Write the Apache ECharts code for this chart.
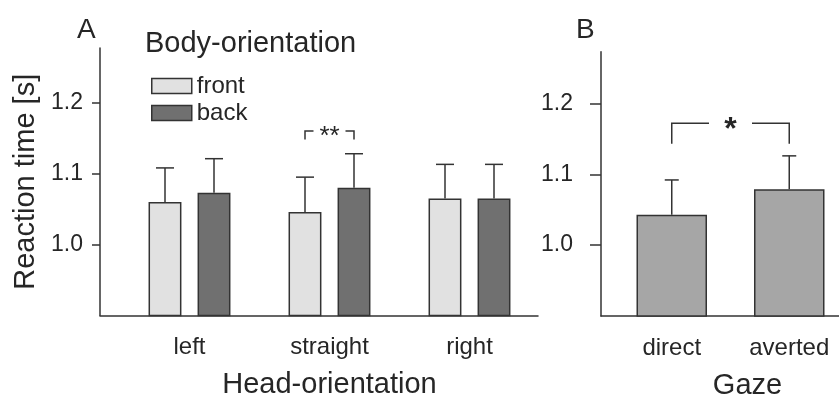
<!DOCTYPE html>
<html>
<head>
<meta charset="utf-8">
<script src="https://cdn.jsdelivr.net/npm/echarts@6/dist/echarts.min.js"></script>
<style>
html,body{margin:0;padding:0;background:#fff;}
#chart{width:839px;height:398px;}
</style>
</head>
<body>
<div id="chart"></div>
<script>
// ---- data ----
const headCategories = ['left', 'straight', 'right'];
const frontMeans = [1.060, 1.046, 1.065];
const frontErr   = [0.048, 0.049, 0.048];
const backMeans  = [1.073, 1.080, 1.065];
const backErr    = [0.048, 0.048, 0.048];
const gazeCategories = ['direct', 'averted'];
const gazeMeans = [1.043, 1.079];
const gazeErr   = [0.049, 0.047];
const yTicks = [1.0, 1.1, 1.2];
// significance brackets: [category / start, top, bottom]
const bracketA = [[1, 1.160, 1.148]];   // straight: front vs back
const bracketB = [[0, 1.172, 1.143]];   // direct vs averted

const FONT = "'Liberation Sans', Arial, Helvetica, sans-serif";
const INK = '#262626';
const AX = '#333333';

const chart = echarts.init(document.getElementById('chart'));

function errRender(offsetFrac, capW) {
  return function (params, api) {
    const c = api.value(0), m = api.value(1), e = api.value(2);
    const band = api.size([1, 0])[0];
    const p0 = api.coord([c, m]);
    const p1 = api.coord([c, m + e]);
    const x = p0[0] + offsetFrac * band;
    const st = { stroke: AX, lineWidth: 1.5, fill: null };
    return {
      type: 'group',
      children: [
        { type: 'line', shape: { x1: x, y1: p0[1], x2: x, y2: p1[1] }, style: st },
        { type: 'line', shape: { x1: x - capW / 2, y1: p1[1], x2: x + capW / 2, y2: p1[1] }, style: st }
      ]
    };
  };
}

function bracketRender(mode, label, halfGap, fontSize, weight) {
  return function (params, api) {
    const c = api.value(0), yt = api.value(1), yb = api.value(2);
    const band = api.size([1, 0])[0];
    let x1, x2;
    if (mode === 'within') {
      const pc = api.coord([c, yt]);
      x1 = pc[0] - 0.175 * band;
      x2 = pc[0] + 0.175 * band;
    } else {
      x1 = api.coord([c, yt])[0];
      x2 = api.coord([c + 1, yt])[0];
    }
    const ytp = api.coord([c, yt])[1];
    const ybp = api.coord([c, yb])[1];
    const xm = (x1 + x2) / 2;
    const st = { stroke: AX, lineWidth: 1.5, fill: null };
    return {
      type: 'group',
      children: [
        { type: 'polyline', shape: { points: [[x1, ybp], [x1, ytp], [xm - halfGap, ytp]] }, style: st },
        { type: 'polyline', shape: { points: [[xm + halfGap, ytp], [x2, ytp], [x2, ybp]] }, style: st },
        { type: 'text', style: { text: label, x: xm, y: ytp + fontSize * 0.22, fill: INK,
            font: weight + ' ' + fontSize + 'px ' + FONT,
            textAlign: 'center', textVerticalAlign: 'middle', align: 'center', verticalAlign: 'middle' } }
      ]
    };
  };
}

const yMinA = 0.9, yMaxA = 1.277;
const yMinB = 0.9, yMaxB = 1.273;

const option = {
  backgroundColor: '#ffffff',
  animation: false,
  textStyle: { fontFamily: FONT },
  title: [
    { text: 'A', left: 77, top: 16, padding: 0, textStyle: { fontSize: 28, fontWeight: 'normal', color: INK, fontFamily: FONT } },
    { text: 'B', left: 576, top: 16, padding: 0, textStyle: { fontSize: 28, fontWeight: 'normal', color: INK, fontFamily: FONT } },
    { text: 'Body-orientation', left: 145, top: 29, padding: 0, textStyle: { fontSize: 29, fontWeight: 'normal', color: INK, fontFamily: FONT } }
  ],
  legend: {
    data: ['front', 'back'],
    orient: 'vertical',
    left: 151, top: 74, padding: 0,
    itemWidth: 40, itemHeight: 15, itemGap: 3, itemTextGap: 5,
    icon: 'rect',
    itemStyle: { borderColor: AX, borderWidth: 1.5 },
    textStyle: { fontSize: 24, color: INK, fontFamily: FONT },
    selectedMode: false
  },
  grid: [
    { left: 100, top: 48, width: 438, height: 267.5, outerBoundsMode: 'none', containLabel: false },   // A axes
    { left: 119.5, top: 48, width: 420, height: 267.5, outerBoundsMode: 'none', containLabel: false }, // A bars
    { left: 601, top: 51.7, width: 238, height: 264.3, outerBoundsMode: 'none', containLabel: false }, // B axes
    { left: 613, top: 51.7, width: 235, height: 264.3, outerBoundsMode: 'none', containLabel: false }  // B bars
  ],
  xAxis: [
    { gridIndex: 0, type: 'value', min: 0, max: 1,
      axisLine: { show: true, lineStyle: { color: AX, width: 1.5 } },
      axisTick: { show: false }, axisLabel: { show: false }, splitLine: { show: false } },
    { gridIndex: 1, type: 'category', data: headCategories,
      axisLine: { show: false }, axisTick: { show: false },
      axisLabel: { fontSize: 24, color: INK, margin: 20, fontFamily: FONT },
      name: 'Head-orientation', nameLocation: 'middle', nameGap: 55,
      nameTextStyle: { fontSize: 29, color: INK, fontFamily: FONT } },
    { gridIndex: 2, type: 'value', min: 0, max: 1,
      axisLine: { show: true, lineStyle: { color: AX, width: 1.5 } },
      axisTick: { show: false }, axisLabel: { show: false }, splitLine: { show: false } },
    { gridIndex: 3, type: 'category', data: gazeCategories,
      axisLine: { show: false }, axisTick: { show: false },
      axisLabel: { fontSize: 24, color: INK, margin: 20, fontFamily: FONT },
      name: 'Gaze', nameLocation: 'middle', nameGap: 55,
      nameTextStyle: { fontSize: 29, color: INK, fontFamily: FONT, padding: [0, 0, 0, 34] } }
  ],
  yAxis: [
    { gridIndex: 0, type: 'value', min: yMinA, max: yMaxA, interval: 0.1,
      axisLine: { show: true, lineStyle: { color: AX, width: 1.5 } },
      axisTick: { show: true, length: 8, customValues: yTicks, lineStyle: { color: AX, width: 1.5 } },
      axisLabel: { fontSize: 23, color: INK, margin: 17, customValues: yTicks, fontFamily: FONT,
                   formatter: v => v.toFixed(1) },
      splitLine: { show: false },
      name: 'Reaction time [s]', nameLocation: 'middle', nameGap: 53,
      nameTextStyle: { fontSize: 29, color: INK, fontFamily: FONT } },
    { gridIndex: 1, type: 'value', min: yMinA, max: yMaxA, show: false },
    { gridIndex: 2, type: 'value', min: yMinB, max: yMaxB, interval: 0.1,
      axisLine: { show: true, lineStyle: { color: AX, width: 1.5 } },
      axisTick: { show: true, length: 11, customValues: yTicks, lineStyle: { color: AX, width: 1.5 } },
      axisLabel: { fontSize: 23, color: INK, margin: 28, customValues: yTicks, fontFamily: FONT,
                   formatter: v => v.toFixed(1) },
      splitLine: { show: false } },
    { gridIndex: 3, type: 'value', min: yMinB, max: yMaxB, show: false }
  ],
  series: [
    { name: 'front', type: 'bar', xAxisIndex: 1, yAxisIndex: 1, data: frontMeans,
      barWidth: '23.5%', barGap: '49%',
      itemStyle: { color: '#e1e1e1', borderColor: AX, borderWidth: 1.5 } },
    { name: 'back', type: 'bar', xAxisIndex: 1, yAxisIndex: 1, data: backMeans,
      barWidth: '23.5%', barGap: '49%',
      itemStyle: { color: '#707070', borderColor: AX, borderWidth: 1.5 } },
    { name: 'frontErr', type: 'custom', xAxisIndex: 1, yAxisIndex: 1, z: 3,
      data: frontMeans.map((m, i) => [i, m, frontErr[i]]),
      renderItem: errRender(-0.175, 18), encode: { x: 0, y: 1 } },
    { name: 'backErr', type: 'custom', xAxisIndex: 1, yAxisIndex: 1, z: 3,
      data: backMeans.map((m, i) => [i, m, backErr[i]]),
      renderItem: errRender(0.175, 18), encode: { x: 0, y: 1 } },
    { name: 'bracketA', type: 'custom', xAxisIndex: 1, yAxisIndex: 1, z: 3,
      data: bracketA, renderItem: bracketRender('within', '**', 16, 26, 'normal'), encode: { x: 0, y: 1 } },
    { name: 'gaze', type: 'bar', xAxisIndex: 3, yAxisIndex: 3, data: gazeMeans,
      barWidth: '60%',
      itemStyle: { color: '#a6a6a6', borderColor: AX, borderWidth: 1.5 } },
    { name: 'gazeErr', type: 'custom', xAxisIndex: 3, yAxisIndex: 3, z: 3,
      data: gazeMeans.map((m, i) => [i, m, gazeErr[i]]),
      renderItem: errRender(0, 14), encode: { x: 0, y: 1 } },
    { name: 'bracketB', type: 'custom', xAxisIndex: 3, yAxisIndex: 3, z: 3,
      data: bracketB, renderItem: bracketRender('between', '*', 21.5, 32, 'bold'), encode: { x: 0, y: 1 } }
  ]
};
chart.setOption(option);
</script>
</body>
</html>
